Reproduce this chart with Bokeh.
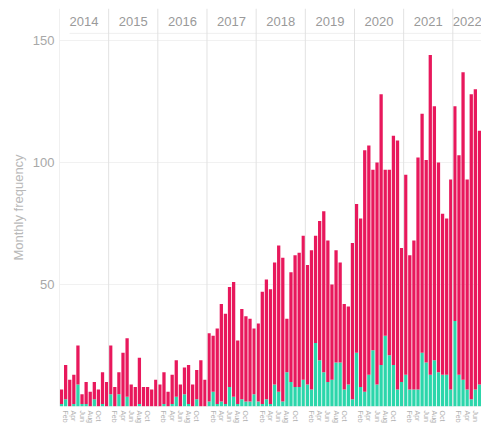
from bokeh.plotting import figure
from bokeh.models import ColumnDataSource, FixedTicker, Span, BoxAnnotation, Range1d
from bokeh.core.properties import value
from bokeh.embed import file_html
from bokeh.resources import INLINE

# ---- data ----
years = ["2014", "2015", "2016", "2017", "2018", "2019", "2020", "2021", "2022"]
month_names = ["Jan", "Feb", "Mar", "Apr", "May", "Jun",
               "Jul", "Aug", "Sep", "Oct", "Nov", "Dec"]
labelled_months = ["Feb", "Apr", "Jun", "Aug", "Oct"]
y_ticks = [50, 100, 150]

teal_2014 = [1, 3, 0, 1, 9, 1, 1, 0, 3, 0, 1, 0]
teal_2015 = [5, 0, 5, 0, 4, 0, 0, 1, 0, 0, 0, 0]
teal_2016 = [0, 1, 0, 1, 4, 0, 5, 1, 0, 3, 0, 0]
teal_2017 = [2, 6, 1, 2, 1, 8, 4, 1, 3, 2, 2, 5]
teal_2018 = [2, 1, 3, 1, 9, 6, 2, 14, 10, 8, 8, 11]
teal_2019 = [9, 7, 26, 19, 14, 10, 11, 18, 18, 7, 9, 3]
teal_2020 = [22, 8, 6, 13, 23, 9, 17, 29, 21, 17, 7, 10]
teal_2021 = [13, 7, 7, 7, 22, 18, 13, 19, 14, 13, 13, 7]
teal_2022 = [35, 13, 11, 7, 3, 7, 9]

pink_2014 = [6, 14, 11, 12, 16, 4, 9, 6, 7, 7, 13, 10]
pink_2015 = [20, 8, 9, 22, 24, 9, 8, 19, 8, 8, 7, 11]
pink_2016 = [9, 13, 6, 12, 15, 9, 11, 16, 9, 12, 19, 11]
pink_2017 = [28, 23, 31, 40, 37, 41, 47, 26, 37, 35, 34, 27]
pink_2018 = [32, 46, 49, 47, 50, 60, 59, 22, 45, 54, 55, 59]
pink_2019 = [49, 57, 44, 57, 66, 58, 39, 46, 41, 35, 32, 64]
pink_2020 = [61, 69, 99, 94, 74, 91, 111, 68, 76, 94, 102, 55]
pink_2021 = [82, 55, 61, 95, 98, 83, 131, 104, 86, 66, 64, 86]
pink_2022 = [88, 90, 126, 86, 125, 123, 104]

teal = (teal_2014 + teal_2015 + teal_2016 + teal_2017 + teal_2018 +
        teal_2019 + teal_2020 + teal_2021 + teal_2022)
pink = (pink_2014 + pink_2015 + pink_2016 + pink_2017 + pink_2018 +
        pink_2019 + pink_2020 + pink_2021 + pink_2022)

# ---- styles ----
PINK = "#E8185C"
TEAL = "#2CD6AB"
FONT = "Liberation Sans"
LINE = "#e2e2e2"

n = len(teal)
src = ColumnDataSource(dict(x=[i + 0.5 for i in range(n)], teal=teal, pink=pink))

p = figure(width=481, height=425,
           x_range=Range1d(0, n), y_range=Range1d(0, 163.1),
           output_backend="svg", toolbar_location=None,
           min_border_left=59, min_border_right=0,
           min_border_top=8, min_border_bottom=18)
p.outline_line_color = None
p.background_fill_color = "white"

# year separators
for k in range(len(years)):
    p.add_layout(Span(location=12 * k, dimension="height",
                      line_color=LINE, line_width=1))

p.vbar_stack(["teal", "pink"], x="x", width=0.8, color=[TEAL, PINK],
             source=src, line_color=None)

# header bottom line and baseline, extending into the left margin
for yv in (152.9, 0):
    p.add_layout(BoxAnnotation(left=10, right=481, left_units="screen",
                               right_units="screen", top=yv, bottom=yv,
                               fill_alpha=0, line_color=LINE, line_width=1,
                               level="overlay"))

# year labels in header strip
year_x = []
for k in range(len(years)):
    start = 12 * k
    end = min(start + 12, n)
    year_x.append((start + end) / 2)
p.text(x=year_x, y=[157.8] * len(years), text=years,
       text_align="center", text_baseline="middle",
       text_font=value(FONT), text_font_size="13px", text_color="#9a9a9a")

# axes
p.xgrid.grid_line_color = None
p.ygrid.ticker = FixedTicker(ticks=y_ticks)
p.ygrid.grid_line_color = "#f1f1f1"

p.yaxis.ticker = FixedTicker(ticks=y_ticks)
p.yaxis.axis_line_color = None
p.yaxis.major_tick_line_color = None
p.yaxis.minor_tick_line_color = None
p.yaxis.major_tick_out = 0
p.yaxis.major_tick_in = 0
p.yaxis.minor_tick_out = 0
p.yaxis.major_label_text_font = FONT
p.yaxis.major_label_text_font_size = "13px"
p.yaxis.major_label_text_color = "#a8a8a8"
p.yaxis.major_label_standoff = 5
p.yaxis.axis_label = "Monthly frequency"
p.yaxis.axis_label_text_font = FONT
p.yaxis.axis_label_text_font_style = "normal"
p.yaxis.axis_label_text_font_size = "13px"
p.yaxis.axis_label_text_color = "#b8b8b8"
p.yaxis.axis_label_standoff = 4

ticks = [i + 0.5 for i in range(n) if month_names[i % 12] in labelled_months]
p.xaxis.ticker = FixedTicker(ticks=ticks)
p.xaxis.major_label_overrides = {t: month_names[int(t) % 12] for t in ticks}
p.xaxis.major_label_orientation = "vertical"
p.xaxis.axis_line_color = None
p.xaxis.major_tick_line_color = None
p.xaxis.minor_tick_line_color = None
p.xaxis.major_tick_out = 0
p.xaxis.major_tick_in = 0
p.xaxis.minor_tick_out = 0
p.xaxis.major_label_text_font = FONT
p.xaxis.major_label_text_font_size = "7px"
p.xaxis.major_label_text_color = "#b0b0b0"
p.xaxis.major_label_standoff = 4

open("out.html", "w").write(file_html(p, INLINE))
